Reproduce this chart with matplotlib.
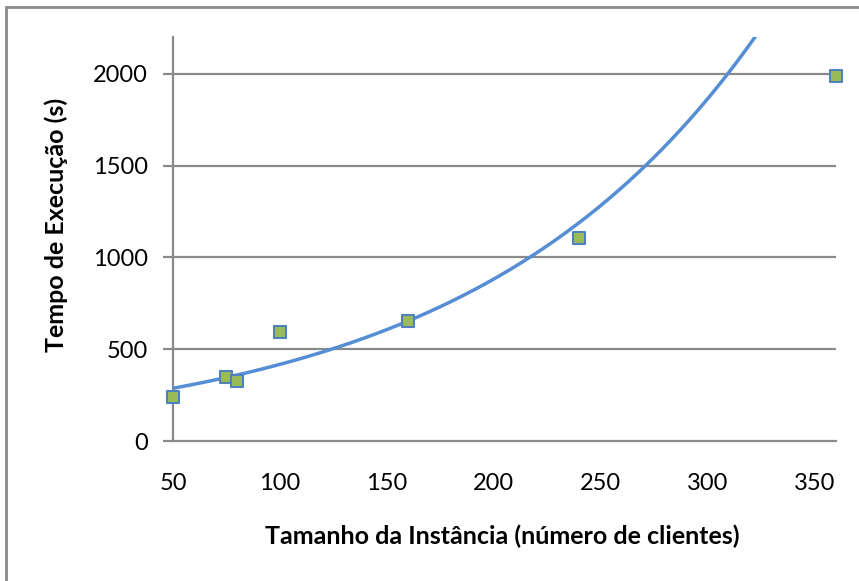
import numpy as np
import matplotlib.pyplot as plt
from matplotlib.patches import Rectangle

# instance size (number of clients) vs. run time in seconds
clientes = [50, 75, 80, 100, 160, 240, 360]
tempo_s = [240, 348, 326, 592, 652, 1103, 1989]

x_ticks = [50, 100, 150, 200, 250, 300, 350]
y_ticks = [0, 500, 1000, 1500, 2000]

grid_color = '#8a8a8a'
trend_color = '#558ed5'

plt.rcParams['font.family'] = ['Lato', 'DejaVu Sans']

fig = plt.figure(figsize=(8.59, 5.81), dpi=100)
ax = fig.add_axes([173 / 859, 1 - 441 / 581, (836 - 173) / 859, (441 - 37) / 581])

# exponential trendline, fitted on the runs that stayed under the 2000 s limit
xs = np.array(clientes[:-1], dtype=float)
ys = np.array(tempo_s[:-1], dtype=float)
b, ln_a = np.polyfit(xs, np.log(ys), 1)
xt = np.linspace(50, 360, 300)
ax.plot(xt, np.exp(ln_a) * np.exp(b * xt), color=trend_color, lw=2.5,
        zorder=3, solid_capstyle='butt')

ax.scatter(clientes, tempo_s, marker='s', s=72, facecolor='#9bbb59',
           edgecolor='#4f81bd', linewidths=1.5, zorder=4, clip_on=False)

ax.set_xlim(50, 360)
ax.set_ylim(0, 2200)
ax.set_xticks(x_ticks)
ax.set_yticks(y_ticks)

for y in y_ticks[1:]:
    ax.axhline(y, color=grid_color, lw=1.6, zorder=1)

for side in ['top', 'right']:
    ax.spines[side].set_visible(False)
for side in ['left', 'bottom']:
    ax.spines[side].set_color(grid_color)
    ax.spines[side].set_linewidth(1.6)

ax.tick_params(axis='y', length=7, width=1.6, color=grid_color, pad=11,
               labelsize=17)
ax.tick_params(axis='x', length=0, pad=23, labelsize=17)

ax.set_xlabel('Tamanho da Instância (número de clientes)', fontsize=18,
              fontweight='bold')
ax.set_ylabel('Tempo de Execução (s)', fontsize=18, fontweight='bold')
ax.xaxis.set_label_coords(0.496, -0.208)
ax.yaxis.set_label_coords(-0.158, 0.535)

# chart area border
fig.patches.append(Rectangle((6 / 859, -0.1), 1.1, 1 - 7 / 581 + 0.1,
                             transform=fig.transFigure, fill=False,
                             edgecolor='#8a8a8a', lw=2))

fig.savefig('out.png', dpi=100)
